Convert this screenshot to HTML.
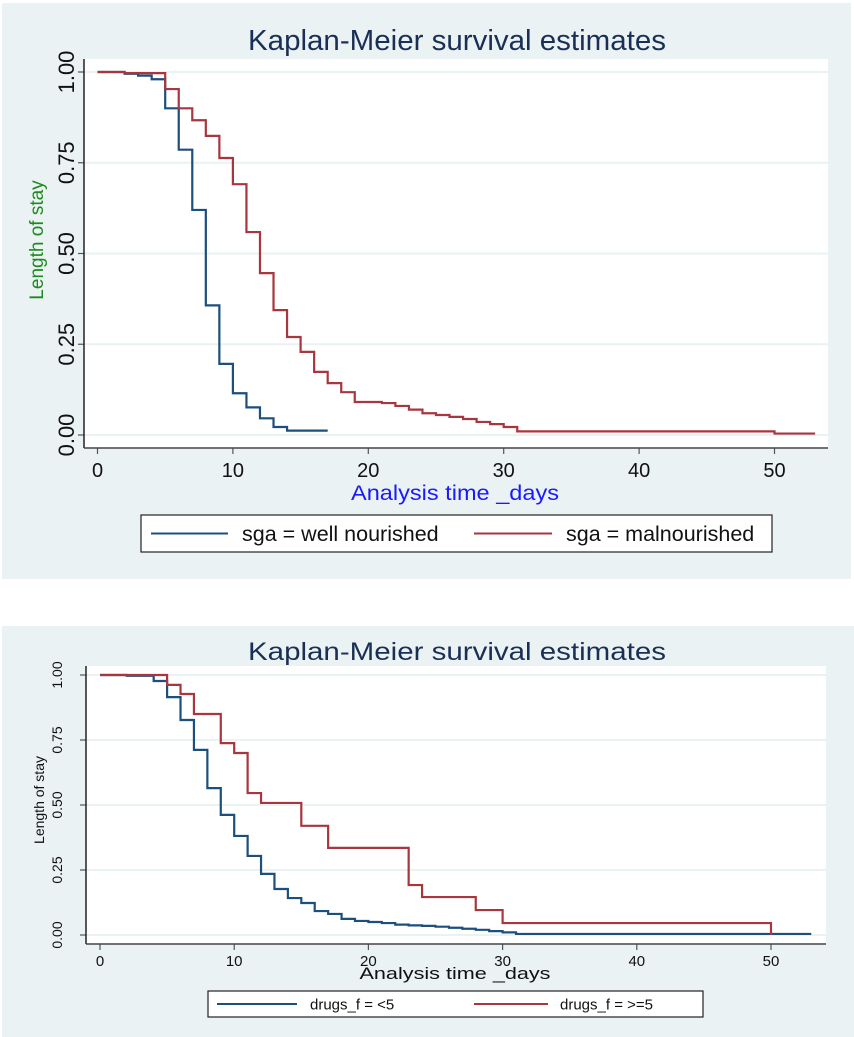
<!DOCTYPE html>
<html><head><meta charset="utf-8"><style>
body{margin:0;background:#fff;}
svg{display:block;font-family:"Liberation Sans",Arial,sans-serif;}
</style></head><body>
<svg width="854" height="1037" viewBox="0 0 854 1037">
<g id="c1"></g>
<g id="c2"></g>
</svg>
<script>
// Chart 1 data (sga)
const c1Times = [0,2,3,4,5,6,7,8,9,10,11,12,13,14,17];
const c1Well = [1,0.995,0.99,0.98,0.90,0.786,0.62,0.357,0.196,0.115,0.076,0.046,0.022,0.012,0.012];
const c1MalT = [0,2,5,6,7,8,9,10,11,12,13,14,15,16,17,18,19,21,22,23,24,25,26,27,28,29,30,31,50,53];
const c1Mal = [1,0.997,0.953,0.90,0.867,0.824,0.763,0.691,0.559,0.446,0.344,0.27,0.229,0.174,0.143,0.118,0.091,0.088,0.08,0.07,0.06,0.055,0.05,0.044,0.036,0.03,0.022,0.01,0.004,0.004];
// Chart 2 data (drugs)
const c2LowT = [0,2,4,5,6,7,8,9,10,11,12,13,14,15,16,17,18,19,20,21,22,23,24,25,26,27,28,29,30,31,53];
const c2Low = [1,0.997,0.977,0.915,0.827,0.712,0.565,0.462,0.381,0.304,0.235,0.177,0.142,0.123,0.092,0.081,0.062,0.054,0.05,0.046,0.04,0.037,0.035,0.032,0.028,0.024,0.02,0.015,0.01,0.004,0.004];
const c2HighT = [0,5,6,7,9,10,11,12,15,17,23,24,28,30,50];
const c2High = [1,0.962,0.927,0.85,0.738,0.70,0.546,0.508,0.42,0.335,0.192,0.146,0.096,0.046,0];
const yTicks = ["0.00","0.25","0.50","0.75","1.00"];
const xTicks = [0,10,20,30,40,50];

const NS="http://www.w3.org/2000/svg";
function mk(p,tag,at,txt){const e=document.createElementNS(NS,tag);for(const k in at)e.setAttribute(k,at[k]);if(txt!==undefined)e.textContent=txt;p.appendChild(e);return e;}
function stepPath(ts,vs,X,Y){let d="M"+X(ts[0])+","+Y(vs[0]);for(let i=1;i<ts.length;i++){d+=" H"+X(ts[i])+" V"+Y(vs[i]);}return d;}

function chart(g,o){
  const X=t=>o.x0+t*o.sx, Y=v=>o.y0-v*o.sy;
  let r=mk(g,"rect",{x:o.bg[0],y:o.bg[1],width:o.bg[2],height:o.bg[3],fill:"#eaf2f3"});
  
  
  r=mk(g,"rect",{x:o.pl[0],y:o.pl[1],width:o.pl[2]-o.pl[0],height:o.pl[3]-o.pl[1],fill:"#fff"});
  
  
  yTicks.forEach(l=>{const v=parseFloat(l);
    const gl=mk(g,"line",{x1:o.pl[0],x2:o.pl[2],y1:Y(v),y2:Y(v),stroke:"#eaf2f3","stroke-width":2});
    
    
    mk(g,"line",{x1:o.pl[0]-6,x2:o.pl[0],y1:Y(v),y2:Y(v),stroke:"#555","stroke-width":1.2});
    const t=mk(g,"text",{x:0,y:0,transform:`translate(${o.ylx},${Y(v)}) rotate(-90)`,"text-anchor":"middle","font-size":o.ytf,fill:"#111"},l);
    
    
  });
  xTicks.forEach(v=>{
    mk(g,"line",{x1:X(v),x2:X(v),y1:o.pl[3],y2:o.pl[3]+6,stroke:"#555","stroke-width":1.2});
    const t=mk(g,"text",{x:X(v),y:o.xly,"text-anchor":"middle","font-size":o.tf,fill:"#111"},v);
    
    
  });
  mk(g,"line",{x1:o.pl[0],x2:o.pl[0],y1:o.pl[1],y2:o.pl[3],stroke:"#222","stroke-width":1.5});
  mk(g,"line",{x1:o.pl[0],x2:o.pl[2],y1:o.pl[3],y2:o.pl[3],stroke:"#444","stroke-width":1.5});
  let s=mk(g,"path",{d:stepPath(o.t1,o.v1,X,Y),fill:"none",stroke:"#1c4f7c","stroke-width":2.2});
  
  
  s=mk(g,"path",{d:stepPath(o.t2,o.v2,X,Y),fill:"none",stroke:"#a8363e","stroke-width":2.2});
  
  
  let t=mk(g,"text",{x:o.titleX,y:o.titleY,"text-anchor":"middle","font-size":o.titleF,fill:"#1a2f55",textLength:o.titleW,lengthAdjust:"spacingAndGlyphs"},"Kaplan-Meier survival estimates");
  
  
  t=mk(g,"text",{x:o.xtX,y:o.xtY,"text-anchor":"middle","font-size":o.xtF,fill:o.xtC,textLength:o.xtW,lengthAdjust:"spacingAndGlyphs"},"Analysis time _days");
  
  
  t=mk(g,"text",{x:0,y:0,transform:`translate(${o.ytX},${o.ytY}) rotate(-90)`,"text-anchor":"middle","font-size":o.ytF,fill:o.ytC},"Length of stay");
  
  
  const L=o.lg;
  r=mk(g,"rect",{x:L[0],y:L[1],width:L[2]-L[0],height:L[3]-L[1],fill:"#fff",stroke:"#222","stroke-width":1.2});
  
  
  const my=(L[1]+L[3])/2;
  o.leg.forEach((e,i)=>{
    mk(g,"line",{x1:e[0],x2:e[1],y1:my,y2:my,stroke:i?"#a8363e":"#1c4f7c","stroke-width":2});
    const lt=mk(g,"text",{x:e[2],y:my+o.lf*0.36,"font-size":o.lf,fill:"#111"},e[3]);
    
    
  });
}
chart(document.getElementById('c1'),{x0:97.5,sx:13.54,y0:435,sy:363,bg:[2,3,849,576],pl:[84,59,828,448],
  t1:c1Times,v1:c1Well,t2:c1MalT,v2:c1Mal,tf:20,ytf:22,ylx:74,xly:477,titleX:457,titleY:50,titleF:29,titleW:418,
  xtX:455,xtY:500,xtF:21,xtW:208,xtC:"#1a1aff",ytX:43,ytY:240,ytF:19,ytC:"#1f8a1f",
  lg:[141,515,772,552],lf:21.5,leg:[[151,228,242,"sga = well nourished"],[474,552,566,"sga = malnourished"]]});
chart(document.getElementById('c2'),{x0:100,sx:13.42,y0:935,sy:260,bg:[2,626,852,411],pl:[86,666,826,944],
  t1:c2LowT,v1:c2Low,t2:c2HighT,v2:c2High,tf:15,ytf:14,ylx:62,xly:966,titleX:457,titleY:660,titleF:25,titleW:418,
  xtX:455,xtY:979,xtF:17,xtW:191,xtC:"#111",ytX:44,ytY:800,ytF:14,ytC:"#111",
  lg:[208,991,703,1017],lf:15,leg:[[217,297,310,"drugs_f = <5"],[474,548,560,"drugs_f = >=5"]]});
</script>
</body></html>
